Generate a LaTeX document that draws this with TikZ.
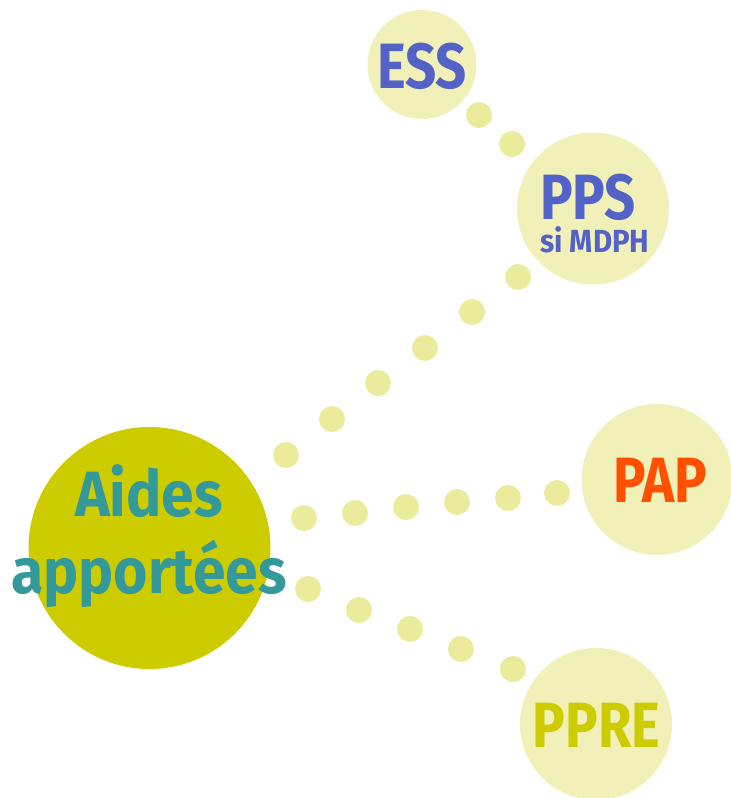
\documentclass[tikz,border=0pt]{standalone}
\usepackage{fontspec}
\newfontfamily\bubblefont{Fira Sans}[FakeStretch=0.85]
\newfontfamily\aidesfont{Fira Sans}[FakeStretch=0.92]
\usetikzlibrary{positioning}
\definecolor{bubblefill}{HTML}{F0F0B8}
\definecolor{dotfill}{HTML}{EBEB9C}
\definecolor{aidesfill}{HTML}{CCCC00}
\definecolor{aidestext}{HTML}{339999}
\definecolor{planblue}{HTML}{5262C7}
\definecolor{paporange}{HTML}{FF5000}
\tikzset{
x=1pt, y=-1pt, % one unit is one pixel of the reference, y grows downwards
bubble/.style={circle, fill=bubblefill, inner sep=0pt, minimum size=152pt}, % the light circles
bigbubble/.style={circle, fill=aidesfill, inner sep=0pt, minimum size=242pt}, % the main circle
dot/.style={circle, fill=dotfill, inner sep=0pt, minimum size=26pt}, % the dots between the circles
bubbletext/.style={anchor=base, inner sep=0pt, font=\bubblefont\bfseries\fontsize{64}{77}\selectfont}, % big labels
aidestextstyle/.style={anchor=base, inner sep=0pt, text=aidestext, font=\aidesfont\bfseries\fontsize{64}{77}\selectfont}, % main label
smalltext/.style={anchor=base, inner sep=0pt, font=\aidesfont\bfseries\fontsize{32}{38}\selectfont}, % small label
}

\begin{document}
\begin{tikzpicture}
    \useasboundingbox (0,0) rectangle (731,798);
    \node[bubble, minimum size=109pt] (ess) at (422,64.5) {};
    \node[bubble] (pps) at (593,208.5) {};
    \node[bubble, minimum size=151pt] (pap) at (657,479.5) {};
    \node[bubble] (ppre) at (596,724) {};
    \node[bigbubble] (aides) at (149.5,548) {};
    % dots ESS -- PPS
    \foreach \x/\y [count=\i] in {479/115, 512/144}
        \node[dot] (a\i) at (\x,\y) {};
    % dots Aides -- PPS
    \foreach \x/\y [count=\i] in {286/455, 332/419, 378/383, 425/348, 472/312, 518/277}
        \node[dot] (b\i) at (\x,\y) {};
    % dots Aides -- PAP
    \foreach \x/\y [count=\i] in {304/518, 355/513, 406/507, 457/502, 508/498, 557/493}
        \node[dot] (c\i) at (\x,\y) {};
    % dots Aides -- PPRE
    \foreach \x/\y [count=\i] in {308/589, 359/610, 410/629, 461/649, 513/669}
        \node[dot] (d\i) at (\x,\y) {};
    \node[bubbletext, text=planblue] (essL) at (422,88) {ESS};
    \node[bubbletext, text=planblue, text depth=0pt] (ppsL) at (588,219) {PPS};
    \node[smalltext, text=planblue] (mdphL) at (595,252) {si MDPH};
    \node[bubbletext, text=paporange] (papL) at (660.5,502) {PAP};
    \node[bubbletext, text=aidesfill] (ppreL) at (596.5,747) {PPRE};
    \node[aidestextstyle] (aidesL) at (149,516) {Aides};
    \node[aidestextstyle] (apportL) at (149,593) {apportées};
\end{tikzpicture}
\end{document}
